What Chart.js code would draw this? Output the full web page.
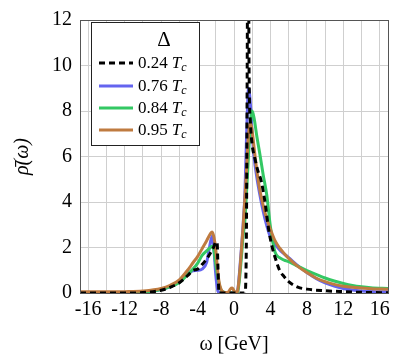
<!DOCTYPE html>
<html>
<head>
  <title>Spectral function</title>
  <style>
    body { margin: 0; background: #fff; }
    #wrap { width: 398px; height: 359px; }
  </style>
  <script src="https://cdn.jsdelivr.net/npm/chart.js"></script>
</head>
<body>
  <div id="wrap"><canvas id="rhoChart"></canvas></div>
  <script>
    // omega grid shared by the three solid curves [GeV]
    const omega = [-16.9, -14, -12, -10, -8, -7, -6, -5, -4.5, -4, -3.5, -3,
      -2.6, -2.4, -2.2, -2.0, -1.8, -1.6, -1.4, -1.2, -1.0, -0.8, -0.6, -0.4, -0.2, 0,
      0.2, 0.4, 0.6, 0.8, 1.0, 1.2, 1.4, 1.6, 1.8, 2.0, 2.2, 2.5, 2.8, 3.2, 3.6, 4.0,
      4.5, 5, 5.5, 6, 7, 8, 9, 10, 11, 12, 13, 14, 15, 16.9];

    const rho076 = [0, 0, 0.01, 0.04, 0.15, 0.28, 0.48, 0.88, 0.98, 1.0, 1.05, 1.35,
      2.2, 2.5, 1.9, 0.8, 0.15, 0, 0, 0, 0, 0, 0, 0, 0, 0,
      0, 0.1, 0.9, 1.9, 3.0, 4.4, 7.2, 9.0, 8.3, 7.0, 6.0, 5.1, 4.4, 3.6, 2.95, 2.45,
      2.15, 1.9, 1.72, 1.55, 1.2, 0.9, 0.64, 0.44, 0.3, 0.2, 0.13, 0.09, 0.07, 0.05];

    const rho084 = [0, 0, 0.01, 0.04, 0.15, 0.28, 0.46, 0.85, 1.05, 1.3, 1.65, 1.85,
      2.0, 2.06, 1.85, 1.25, 0.75, 0.35, 0.12, 0.05, 0.02, 0.02, 0.02, 0, 0, 0,
      0, 0.05, 0.6, 1.5, 2.5, 3.2, 4.6, 6.1, 7.4, 8.0, 7.7, 6.9, 6.2, 5.2, 4.3, 2.9,
      1.8, 1.55, 1.45, 1.38, 1.18, 0.98, 0.82, 0.66, 0.53, 0.42, 0.33, 0.27, 0.23, 0.2];

    const rho095 = [0.05, 0.05, 0.06, 0.09, 0.2, 0.34, 0.58, 1.05, 1.33, 1.6, 1.95, 2.3,
      2.6, 2.68, 2.45, 1.9, 1.0, 0.4, 0.15, 0.05, 0.02, 0.02, 0.05, 0.18, 0.22, 0.1,
      0.02, 0.1, 0.8, 1.8, 2.9, 4.2, 5.6, 7.0, 7.5, 7.1, 6.4, 5.4, 4.6, 3.85, 3.25, 2.8,
      2.3, 1.98, 1.74, 1.52, 1.17, 0.9, 0.66, 0.5, 0.38, 0.3, 0.25, 0.22, 0.19, 0.17];

    // the dashed 0.24 Tc curve has its own, denser grid around the sharp peak
    const omega024 = [-16.9, -12, -10, -8, -7, -6, -5, -4.5, -4, -3.5, -3, -2.6, -2.2,
      -2.0, -1.85, -1.75, -1.65, 1.2, 1.35, 1.45, 1.55, 1.65, 1.8, 2.0, 2.3, 2.6, 3.0,
      3.4, 3.8, 4.2, 4.6, 5.0, 5.5, 6, 7, 8, 10, 12, 14, 16.9];
    const rho024 = [0, 0, 0.02, 0.12, 0.25, 0.45, 0.8, 1.0, 1.05, 1.25, 1.5, 1.75, 2.05,
      2.25, 2.2, 1.0, 0, 0, 2, 10, 20, 10, 7.5, 6.5, 5.9, 5.4, 4.9,
      4.0, 2.8, 2.0, 1.45, 1.0, 0.72, 0.5, 0.26, 0.17, 0.1, 0.06, 0.03, 0.01];

    const labels = ['0.24', '0.76', '0.84', '0.95'];
    const xTicks = [-16, -12, -8, -4, 0, 4, 8, 12, 16];
    const yTicks = [0, 2, 4, 6, 8, 10, 12];

    const serif = "'Liberation Serif', 'DejaVu Serif', serif";

    function pts(xs, ys) {
      return xs.map((x, i) => ({ x: x, y: ys[i] }));
    }

    // legend box drawn by hand so "T" can get its subscript c
    const legendBox = {
      id: 'legendBox',
      afterDraw(chart) {
        const ctx = chart.ctx;
        const x0 = 91.5, y0 = 22.5, w = 108, h = 123;
        ctx.save();
        ctx.fillStyle = '#fff';
        ctx.fillRect(x0, y0, w, h);
        ctx.strokeStyle = '#222';
        ctx.lineWidth = 1;
        ctx.strokeRect(x0, y0, w, h);
        ctx.fillStyle = '#000';
        ctx.font = '21px ' + serif;
        ctx.textAlign = 'center';
        ctx.textBaseline = 'middle';
        ctx.fillText('\u0394', 164, 40);
        const rowY = [63, 86, 108, 130];
        chart.data.datasets.forEach((ds, row) => {
          const y = rowY[row];
          ctx.strokeStyle = ds.borderColor;
          ctx.lineWidth = ds.borderWidth;
          ctx.setLineDash(ds.borderDash || []);
          ctx.beginPath();
          ctx.moveTo(99, y);
          ctx.lineTo(133, y);
          ctx.stroke();
          ctx.setLineDash([]);
          ctx.fillStyle = '#000';
          ctx.textAlign = 'left';
          ctx.textBaseline = 'middle';
          ctx.font = '17px ' + serif;
          let tx = 138;
          ctx.fillText(ds.label, tx, y + 1);
          tx += ctx.measureText(ds.label).width + 4;
          ctx.font = 'italic 17px ' + serif;
          ctx.fillText('T', tx, y + 1);
          tx += ctx.measureText('T').width;
          ctx.font = 'italic 12px ' + serif;
          ctx.fillText('c', tx, y + 5);
        });
        ctx.restore();
      }
    };

    // full frame round the plot area
    const frame = {
      id: 'frame',
      afterDatasetsDraw(chart) {
        const a = chart.chartArea;
        const ctx = chart.ctx;
        ctx.save();
        ctx.strokeStyle = '#555';
        ctx.lineWidth = 1;
        ctx.strokeRect(Math.round(a.left) + 0.5, Math.round(a.top) + 0.5,
          Math.round(a.right - a.left), Math.round(a.bottom - a.top));
        ctx.restore();
      }
    };

    new Chart(document.getElementById('rhoChart'), {
      type: 'line',
      data: {
        datasets: [
          { label: labels[0], data: pts(omega024, rho024), borderColor: '#000',
            borderWidth: 3, borderDash: [6, 4], order: 0 },
          { label: labels[1], data: pts(omega, rho076), borderColor: '#6464ef',
            borderWidth: 3, order: 3 },
          { label: labels[2], data: pts(omega, rho084), borderColor: '#33c863',
            borderWidth: 3, order: 2 },
          { label: labels[3], data: pts(omega, rho095), borderColor: '#bf7b40',
            borderWidth: 3, order: 1 }
        ]
      },
      options: {
        responsive: true,
        maintainAspectRatio: false,
        animation: false,
        layout: { padding: { top: 14, right: 10, left: 0, bottom: 0 } },
        elements: {
          point: { radius: 0 },
          line: { cubicInterpolationMode: 'monotone', fill: false }
        },
        datasets: { line: { clip: 0 } },
        plugins: { legend: { display: false }, tooltip: { enabled: false } },
        scales: {
          x: {
            type: 'linear',
            min: -16.9,
            max: 16.9,
            afterBuildTicks(scale) {
              const t = [];
              for (let v = -16; v <= 16; v += 2) t.push({ value: v });
              scale.ticks = t;
            },
            afterFit(scale) { scale.height = 66; },
            ticks: {
              autoSkip: false,
              maxRotation: 0,
              padding: 5,
              color: '#000',
              font: { family: serif, size: 20 },
              callback: (v) => xTicks.includes(v) ? String(v) : ''
            },
            grid: { color: '#cfcfcf', drawTicks: false },
            border: { color: '#555' },
            title: {
              display: true,
              text: '\u03c9 [GeV]',
              color: '#000',
              font: { family: serif, size: 20 },
              padding: { top: 0, bottom: 2 }
            }
          },
          y: {
            min: 0,
            max: 12,
            afterBuildTicks(scale) {
              scale.ticks = yTicks.map(v => ({ value: v }));
            },
            afterFit(scale) { scale.width = 80; },
            ticks: {
              padding: 8,
              color: '#000',
              font: { family: serif, size: 20 }
            },
            grid: { color: '#cfcfcf', drawTicks: false },
            border: { color: '#555' },
            title: {
              display: true,
              text: '\u03c1\u0304(\u03c9)',
              color: '#000',
              font: { family: serif, size: 20, style: 'italic' },
              padding: { top: 11, bottom: 0 }
            }
          }
        }
      },
      plugins: [legendBox, frame]
    });
  </script>
</body>
</html>
